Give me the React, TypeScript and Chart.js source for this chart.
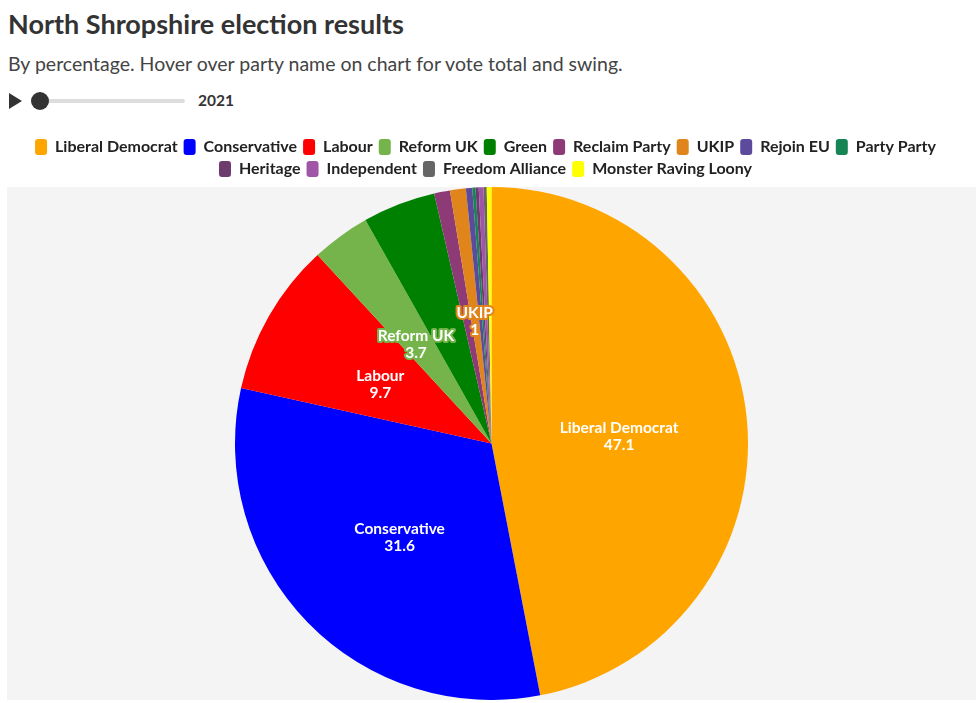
import React, { useEffect, useRef } from "react";
import { Chart, registerables } from "chart.js";

Chart.register(...registerables);

const parties = [
  "Liberal Democrat",
  "Conservative",
  "Labour",
  "Reform UK",
  "Green",
  "Reclaim Party",
  "UKIP",
  "Rejoin EU",
  "Party Party",
  "Heritage",
  "Independent",
  "Freedom Alliance",
  "Monster Raving Loony",
];

const shares = [47.1, 31.6, 9.7, 3.7, 4.6, 1.0, 1.0, 0.4, 0.2, 0.2, 0.3, 0.2, 0.3];

const partyColours = [
  "#FFA500",
  "#0000FF",
  "#FF0000",
  "#74B44A",
  "#008000",
  "#8E3A76",
  "#E0841C",
  "#5C4B9C",
  "#178456",
  "#6D3B6E",
  "#A056A6",
  "#666666",
  "#FFFF00",
];

const labelledParties = ["Liberal Democrat", "Conservative", "Labour", "Reform UK", "UKIP"];

const FONT = "Lato, 'Source Sans Pro', sans-serif";

const bgPlugin = {
  id: "plotBg",
  afterLayout(chart: any) {
    const lg = chart.legend;
    if (lg) {
      lg.left -= 6;
      lg.right -= 6;
    }
  },
  beforeDraw(chart: any) {
    const { ctx, chartArea } = chart;
    if (!chartArea) return;
    ctx.save();
    ctx.fillStyle = "#f4f4f4";
    ctx.fillRect(chartArea.left, chartArea.top, chartArea.right - chartArea.left, chartArea.bottom - chartArea.top);
    ctx.restore();
  },
};

const labelPlugin = {
  id: "sliceLabels",
  afterDatasetsDraw(chart: any) {
    const { ctx } = chart;
    const meta = chart.getDatasetMeta(0);
    ctx.save();
    ctx.font = `bold 15.5px ${FONT}`;
    ctx.textAlign = "center";
    ctx.textBaseline = "middle";
    ctx.lineJoin = "round";
    meta.data.forEach((arc: any, i: number) => {
      const name = parties[i];
      if (!labelledParties.includes(name)) return;
      const p = arc.tooltipPosition();
      const lines = [name, String(shares[i])];
      lines.forEach((t, k) => {
        const y = p.y + 5 + (k - 0.5) * 17;
        ctx.lineWidth = 4;
        ctx.strokeStyle = partyColours[i];
        ctx.strokeText(t, p.x, y);
        ctx.fillStyle = "#ffffff";
        ctx.fillText(t, p.x, y);
      });
    });
    ctx.restore();
  },
};

function PieChart() {
  const ref = useRef<HTMLCanvasElement | null>(null);
  useEffect(() => {
    if (!ref.current) return;
    const chart = new Chart(ref.current, {
      type: "pie",
      data: {
        labels: parties,
        datasets: [
          {
            data: shares,
            backgroundColor: partyColours,
            borderWidth: 0,
          },
        ],
      },
      options: {
        animation: false,
        responsive: true,
        maintainAspectRatio: false,
        layout: { padding: 0 },
        plugins: {
          legend: {
            position: "top",
            align: "center",
            labels: {
              font: { family: FONT, size: 16, weight: "bold" },
              color: "#222222",
              boxWidth: 12,
              boxHeight: 16,
              padding: 6,
              useBorderRadius: true,
              borderRadius: 3,
            },
          },
          tooltip: { enabled: false },
        },
      } as any,
      plugins: [bgPlugin, labelPlugin],
    });
    return () => chart.destroy();
  }, []);
  return <canvas ref={ref} />;
}

export default function App() {
  return (
    <div style={{ position: "absolute", left: 0, top: 0, width: 979, height: 703, background: "#fff", fontFamily: FONT }}>
      <div style={{ position: "absolute", left: 8, top: 8, fontSize: 27, lineHeight: 1.2, fontWeight: 700, color: "#333", whiteSpace: "nowrap" }}>
        North Shropshire election results
      </div>
      <div style={{ position: "absolute", left: 8, top: 52, fontSize: 19.5, lineHeight: 1.2, color: "#444", whiteSpace: "nowrap" }}>
        By percentage. Hover over party name on chart for vote total and swing.
      </div>
      <div
        style={{
          position: "absolute",
          left: 9,
          top: 93,
          width: 0,
          height: 0,
          borderTop: "8px solid transparent",
          borderBottom: "8px solid transparent",
          borderLeft: "13px solid #333",
        }}
      />
      <div style={{ position: "absolute", left: 40, top: 99, width: 145, height: 4, background: "#ddd", borderRadius: 2 }} />
      <div style={{ position: "absolute", left: 31, top: 92, width: 18, height: 18, borderRadius: 9, background: "#333" }} />
      <div style={{ position: "absolute", left: 198, top: 91, fontSize: 15.5, lineHeight: 1.2, fontWeight: 700, color: "#333" }}>2021</div>
      <div style={{ position: "absolute", left: 7, top: 133, width: 969, height: 567 }}>
        <PieChart />
      </div>
    </div>
  );
}
